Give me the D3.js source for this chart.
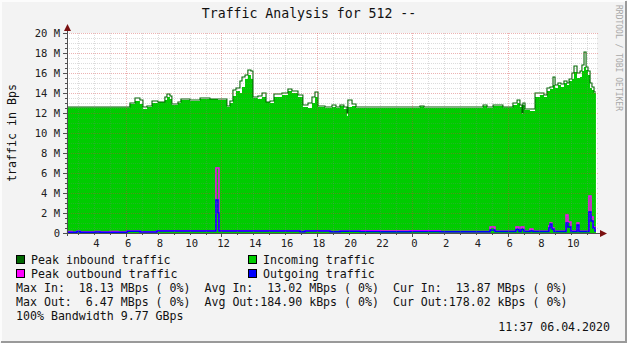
<!DOCTYPE html>
<html>
<head>
<meta charset="utf-8">
<script src="https://cdn.jsdelivr.net/npm/d3@7"></script>
<style>
  body { margin: 0; background: #f3f3f3; }
  text { font-family: "DejaVu Sans Mono", monospace; white-space: pre; }
</style>
</head>
<body>
<div id="chart"></div>
<script>
// times are hours since 05.04.2020 00:00, values in M (Bps), step after each time
var inHours = [2.28, 6.24, 6.56, 6.87, 7.06, 7.31, 7.63, 8.00, 8.44, 8.57, 8.76, 8.88, 9.26, 9.45,
  10.02, 10.65, 11.27, 11.78, 12.34, 12.53, 12.72, 12.91, 13.16, 13.29, 13.48, 13.66, 13.85, 13.98,
  14.29, 14.55, 14.80, 15.05, 15.30, 15.80, 16.18, 16.43, 16.81, 17.12, 17.44, 17.69, 17.88, 18.07,
  18.51, 18.95, 19.20, 19.45, 19.70, 19.89, 19.95, 20.21, 20.46, 24.48, 24.74, 28.45, 28.70, 29.08,
  29.70, 30.33, 30.59, 30.77, 30.90, 30.96, 31.09, 31.40, 31.72, 32.03, 32.28, 32.47, 32.66, 32.85,
  32.98, 33.16, 33.35, 33.54, 33.73, 33.86, 34.04, 34.17, 34.36, 34.55, 34.67, 34.80, 34.93, 35.05,
  35.18, 35.30, 35.43, 35.55];
var inAvg = [12.55, 12.9, 13.2, 12.9, 12.4, 12.6, 13.0, 13.1, 13.3, 13.6, 13.4, 12.8, 13.0, 13.3,
  13.2, 13.4, 13.4, 13.3, 12.6, 13.0, 13.7, 14.2, 14.0, 14.6, 15.4, 15.8, 15.4, 13.5,
  13.4, 13.6, 13.1, 13.0, 13.6, 13.8, 14.2, 14.0, 13.6, 12.6, 12.5, 13.0, 13.6, 12.6,
  12.5, 12.6, 12.5, 12.7, 12.4, 11.7, 12.6, 12.7, 12.5, 12.65, 12.5, 12.7, 12.5, 12.7,
  12.55, 12.8, 13.0, 12.6, 11.9, 12.8, 12.3, 12.2, 13.6, 13.8, 13.6, 14.2, 14.4, 14.8,
  14.5, 14.8, 14.6, 15.0, 14.8, 15.2, 15.4, 16.1, 15.5, 15.6, 16.2, 16.6, 16.3, 15.8,
  14.5, 14.3, 14.0, 14.0];
var inPeak = [12.6, 13.0, 13.5, 13.3, 12.6, 12.7, 13.2, 13.1, 13.6, 13.9, 13.7, 12.9, 13.1, 13.4,
  13.3, 13.5, 13.4, 13.4, 12.7, 13.2, 14.3, 14.5, 15.2, 15.6, 15.8, 16.3, 16.2, 13.6,
  13.7, 14.0, 13.1, 13.2, 13.9, 14.0, 14.4, 14.2, 13.8, 12.8, 13.0, 13.6, 14.1, 12.7,
  12.6, 12.8, 12.6, 12.8, 12.6, 12.0, 13.3, 12.9, 12.6, 12.7, 12.6, 12.8, 12.6, 12.8,
  12.6, 13.0, 13.3, 12.8, 12.0, 13.0, 12.4, 12.4, 14.0, 14.0, 13.8, 14.5, 14.6, 15.6,
  14.8, 15.0, 14.9, 15.2, 15.0, 15.4, 16.0, 16.7, 16.0, 16.2, 16.8, 18.1, 16.6, 16.2,
  15.0, 14.6, 14.1, 14.1];

var outHours = [2.28, 2.60, 2.91, 3.10, 4.04, 4.36, 4.99, 5.49, 6.06, 6.87, 7.94, 11.65, 11.78, 11.84,
  16.94, 17.25, 18.83, 19.45, 20.71, 21.97, 23.86, 25.74, 28.89, 29.20, 30.52, 30.71, 30.84, 31.02,
  31.40, 31.59, 32.59, 32.66, 32.78, 32.91, 33.67, 33.79, 33.98, 34.36, 34.48, 35.11, 35.24, 35.37,
  35.49, 35.55];
var outAvg = [0.08, 0.08, 0.15, 0.08, 0.1, 0.08, 0.08, 0.08, 0.18, 0.1, 0.2, 3.3, 2.0, 0.2,
  0.12, 0.2, 0.12, 0.18, 0.15, 0.12, 0.15, 0.12, 0.3, 0.15, 0.35, 0.15, 0.35, 0.15,
  0.2, 0.15, 0.5, 0.9, 0.4, 0.15, 1.0, 0.6, 0.15, 0.8, 0.15, 2.1, 1.2, 0.5,
  0.2, 0.2];
var outPeak = [0.15, 0.08, 0.18, 0.1, 0.15, 0.1, 0.15, 0.1, 0.2, 0.12, 0.22, 6.5, 6.5, 0.22,
  0.15, 0.22, 0.15, 0.2, 0.22, 0.2, 0.22, 0.15, 0.6, 0.18, 0.6, 0.3, 0.6, 0.18,
  0.4, 0.18, 0.7, 1.0, 0.5, 0.18, 1.8, 1.1, 0.2, 1.0, 0.18, 3.7, 1.6, 0.6,
  0.25, 0.25];

var yTicks = [0, 2, 4, 6, 8, 10, 12, 14, 16, 18, 20];
var legendItems = [
  {label: "Peak inbound traffic", color: "#006600", col: 0, row: 0},
  {label: "Incoming traffic", color: "#00cc00", col: 1, row: 0},
  {label: "Peak outbound traffic", color: "#ff00ff", col: 0, row: 1},
  {label: "Outgoing traffic", color: "#0000ff", col: 1, row: 1}
];
var statLines = [
  "Max In:  18.13 MBps ( 0%)  Avg In:  13.02 MBps ( 0%)  Cur In:  13.87 MBps ( 0%)",
  "Max Out:  6.47 MBps ( 0%)  Avg Out:184.90 kBps ( 0%)  Cur Out:178.02 kBps ( 0%)",
  "100% Bandwidth 9.77 GBps"
];

var width = 627, height = 343;
var plotLeft = 67, plotRight = 597, plotTop = 33, plotBottom = 233;
var day0 = new Date(2020, 3, 5, 0, 0);
function toDate(h) { return new Date(day0.getTime() + h * 3600000); }

var x = d3.scaleTime()
  .domain([new Date(2020, 3, 5, 2, 17), new Date(2020, 3, 6, 11, 37)])
  .range([plotLeft, plotRight]);
var y = d3.scaleLinear().domain([0, 20]).range([plotBottom, plotTop]);

var svg = d3.select("#chart").append("svg")
  .attr("width", width)
  .attr("height", height);

// frame
svg.append("rect").attr("width", width).attr("height", height).attr("fill", "#f3f3f3");
svg.append("path").attr("d", "M1,342V1H626").attr("fill", "none").attr("stroke", "#fcfcfc").attr("stroke-width", 2);
svg.append("path").attr("d", "M1,342H626V1").attr("fill", "none").attr("stroke", "#9a9a9a").attr("stroke-width", 2);

// canvas
svg.append("rect")
  .attr("x", plotLeft).attr("y", plotTop)
  .attr("width", plotRight - plotLeft).attr("height", plotBottom - plotTop)
  .attr("fill", "#ffffff");

var inData = inHours.map(function(h, i){ return {t: toDate(h), avg: inAvg[i], peak: inPeak[i]}; });
var outData = outHours.map(function(h, i){ return {t: toDate(h), avg: outAvg[i], peak: outPeak[i]}; });

svg.append("path")
  .datum(inData)
  .attr("fill", "#00cc00")
  .attr("d", d3.area().curve(d3.curveStepAfter)
    .x(function(d){ return x(d.t); })
    .y0(y(0))
    .y1(function(d){ return y(d.avg); }));

svg.append("path")
  .datum(inData)
  .attr("fill", "none")
  .attr("stroke", "#006600")
  .attr("stroke-width", 1.1)
  .attr("d", d3.line().curve(d3.curveStepAfter)
    .x(function(d){ return x(d.t); })
    .y(function(d){ return y(d.peak); }));

svg.append("path")
  .datum(outData)
  .attr("fill", "none")
  .attr("stroke", "#ff00ff")
  .attr("stroke-width", 1.5)
  .attr("d", d3.line().curve(d3.curveStepAfter)
    .x(function(d){ return x(d.t); })
    .y(function(d){ return y(d.peak); }));

svg.append("path")
  .datum(outData)
  .attr("fill", "none")
  .attr("stroke", "#0000ff")
  .attr("stroke-width", 1.5)
  .attr("d", d3.line().curve(d3.curveStepAfter)
    .x(function(d){ return x(d.t); })
    .y(function(d){ return y(d.avg); }));

// grid, drawn over the data like rrdtool does
var grid = svg.append("g").attr("shape-rendering", "crispEdges");
var minorY = d3.range(0.5, 20.01, 0.5).filter(function(v){ return v % 2 != 0; });
grid.selectAll(".hminor").data(minorY).enter().append("line")
  .attr("x1", plotLeft).attr("x2", plotRight + 2)
  .attr("y1", function(d){ return Math.round(y(d)) + 0.5; })
  .attr("y2", function(d){ return Math.round(y(d)) + 0.5; })
  .attr("stroke", "#808080").attr("stroke-opacity", 0.28).attr("stroke-dasharray", "1,1");
grid.selectAll(".hmajor").data(yTicks.slice(1)).enter().append("line")
  .attr("x1", plotLeft).attr("x2", plotRight + 2)
  .attr("y1", function(d){ return Math.round(y(d)) + 0.5; })
  .attr("y2", function(d){ return Math.round(y(d)) + 0.5; })
  .attr("stroke", "#d04040").attr("stroke-opacity", 0.4).attr("stroke-dasharray", "1,1");

var hours = x.ticks(d3.timeHour.every(1));
grid.selectAll(".vgrid").data(hours).enter().append("line")
  .attr("x1", function(d){ return Math.round(x(d)) + 0.5; })
  .attr("x2", function(d){ return Math.round(x(d)) + 0.5; })
  .attr("y1", plotTop).attr("y2", plotBottom)
  .attr("stroke", function(d){ return d.getHours() % 6 == 0 ? "#d04040" : "#808080"; })
  .attr("stroke-opacity", function(d){ return d.getHours() % 6 == 0 ? 0.4 : 0.28; })
  .attr("stroke-dasharray", "1,1");

// axes
var axes = svg.append("g").attr("shape-rendering", "crispEdges");
axes.append("line").attr("x1", plotLeft - 4).attr("x2", plotRight + 4).attr("y1", plotBottom + 0.5).attr("y2", plotBottom + 0.5).attr("stroke", "#505050");
axes.append("line").attr("x1", plotLeft + 0.5).attr("x2", plotLeft + 0.5).attr("y1", plotBottom + 3).attr("y2", plotTop - 4).attr("stroke", "#505050");
axes.selectAll(".yt").data(d3.range(0, 20.01, 0.5)).enter().append("line")
  .attr("x1", function(d){ return d % 2 == 0 ? plotLeft - 4 : plotLeft - 2; }).attr("x2", plotLeft)
  .attr("y1", function(d){ return Math.round(y(d)) + 0.5; })
  .attr("y2", function(d){ return Math.round(y(d)) + 0.5; })
  .attr("stroke", "#505050");
axes.selectAll(".xt").data(hours).enter().append("line")
  .attr("x1", function(d){ return Math.round(x(d)) + 0.5; })
  .attr("x2", function(d){ return Math.round(x(d)) + 0.5; })
  .attr("y1", plotBottom)
  .attr("y2", function(d){ return d.getHours() % 6 == 0 ? plotBottom + 4 : plotBottom + 2; })
  .attr("stroke", "#505050");

svg.append("path").attr("d", "M" + (plotRight + 3) + "," + (plotBottom - 3) + "l7,3.5l-7,3.5z").attr("fill", "#7a1010");
svg.append("path").attr("d", "M" + (plotLeft - 3) + "," + (plotTop - 2) + "l3.5,-7l3.5,7z").attr("fill", "#7a1010");

svg.selectAll(".ylab").data(yTicks).enter().append("text")
  .attr("x", 60)
  .attr("y", function(d){ return y(d) + 4; })
  .attr("text-anchor", "end")
  .attr("font-size", "10.5px")
  .attr("fill", "#202020")
  .text(function(d){ return d == 0 ? "0" : d + " M"; });

svg.selectAll(".xlab").data(x.ticks(d3.timeHour.every(2))).enter().append("text")
  .attr("x", function(d){ return x(d) + 2; })
  .attr("y", 247)
  .attr("text-anchor", "middle")
  .attr("font-size", "10.5px")
  .attr("fill", "#202020")
  .text(d3.timeFormat("%-H"));

// titles
svg.append("text")
  .attr("x", 309).attr("y", 18)
  .attr("text-anchor", "middle")
  .attr("font-size", "13.2px")
  .attr("fill", "#111")
  .text("Traffic Analysis for 512 --");

svg.append("text")
  .attr("transform", "translate(15.5,133) rotate(-90)")
  .attr("text-anchor", "middle")
  .attr("font-size", "11.6px")
  .attr("fill", "#111")
  .text("traffic in Bps");

svg.append("text")
  .attr("transform", "translate(615.5,5) rotate(90)")
  .attr("font-size", "8px")
  .attr("fill", "#a8a8a8")
  .text("RRDTOOL / TOBI OETIKER");

// legend
var legend = svg.selectAll(".legend").data(legendItems).enter().append("g")
  .attr("transform", function(d){ return "translate(" + (d.col == 0 ? 16 : 248) + "," + (255 + d.row * 14) + ")"; });
legend.append("rect")
  .attr("x", 0.5).attr("y", 0.5).attr("width", 8).attr("height", 8)
  .attr("fill", function(d){ return d.color; })
  .attr("stroke", "#000")
  .attr("shape-rendering", "crispEdges");
legend.append("text")
  .attr("x", 15).attr("y", 8.5)
  .attr("font-size", "11.6px")
  .attr("fill", "#111")
  .text(function(d){ return d.label; });

svg.selectAll(".stat").data(statLines).enter().append("text")
  .attr("x", 16)
  .attr("y", function(d, i){ return 291.5 + i * 14; })
  .attr("font-size", "11.6px")
  .attr("fill", "#111")
  .text(function(d){ return d; });

svg.append("text")
  .attr("x", 610).attr("y", 331)
  .attr("text-anchor", "end")
  .attr("font-size", "11.6px")
  .attr("fill", "#111")
  .text("11:37 06.04.2020");
</script>
</body>
</html>
